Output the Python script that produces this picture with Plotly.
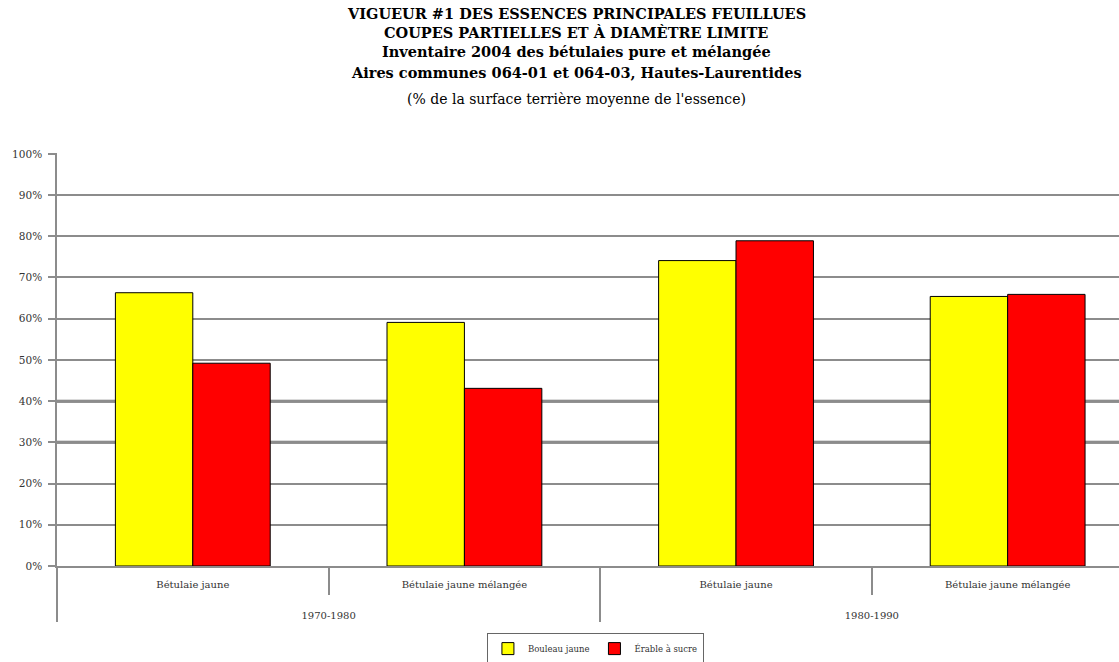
import plotly.graph_objects as go

# Periods and stand types (two-level category axis)
periodes = ["1970-1980", "1970-1980", "1980-1990", "1980-1990"]
peuplements = ["Bétulaie jaune", "Bétulaie jaune mélangée",
               "Bétulaie jaune", "Bétulaie jaune mélangée"]

# Share of the species' mean basal area with vigour class #1
bouleau_jaune = [0.663, 0.591, 0.741, 0.654]
erable_a_sucre = [0.492, 0.431, 0.789, 0.659]

SERIF = "DejaVu Serif, Liberation Serif, serif"
GRID = "#8c8c8c"
TXT = "#333333"

# inner labels get empty extra lines so the period row sits lower
etiquettes = [p + "<br> <br> " for p in peuplements]

fig = go.Figure()
fig.add_trace(go.Bar(
    x=[periodes, etiquettes], y=bouleau_jaune, name="Bouleau jaune",
    marker=dict(color="#FFFF00", line=dict(color="#000000", width=1)),
))
fig.add_trace(go.Bar(
    x=[periodes, etiquettes], y=erable_a_sucre, name="Érable à sucre",
    marker=dict(color="#FF0000", line=dict(color="#000000", width=1)),
))

titres = [
    ("<b>VIGUEUR #1 DES ESSENCES PRINCIPALES FEUILLUES</b>", 1.337, 14.5),
    ("<b>COUPES PARTIELLES ET À DIAMÈTRE LIMITE</b>", 1.291, 14.5),
    ("<b>Inventaire 2004 des bétulaies pure et mélangée</b>", 1.245, 14.5),
    ("<b>Aires communes 064-01 et 064-03, Hautes-Laurentides</b>", 1.196, 14.5),
    ("(% de la surface terrière moyenne de l'essence)", 1.131, 14),
]
for texte, yy, taille in titres:
    fig.add_annotation(
        text=texte, xref="paper", yref="paper", x=0.489, y=yy,
        xanchor="center", yanchor="middle", showarrow=False,
        font=dict(family=SERIF, size=taille, color="#000000"),
    )

# the 30 % and 40 % grid lines are drawn heavier
for niveau in (0.3, 0.4):
    fig.add_shape(type="line", xref="paper", yref="y", x0=0, x1=1,
                  y0=niveau, y1=niveau, layer="below",
                  line=dict(color="#6e6e6e", width=3))

fig.update_layout(
    width=1119, height=662,
    margin=dict(l=57, r=0, t=153, b=96, autoexpand=False),
    paper_bgcolor="white", plot_bgcolor="white",
    barmode="group", bargap=0.43, bargroupgap=0,
    font=dict(family=SERIF, size=10, color=TXT),
    showlegend=True,
    legend=dict(
        orientation="h", x=0.507, y=-0.2, xanchor="center", yanchor="middle",
        bordercolor="#666666", borderwidth=1,
        font=dict(family=SERIF, size=8.5, color=TXT),
        itemwidth=30, tracegroupgap=0,
    ),
    xaxis=dict(
        type="multicategory", range=[-0.5, 3.41], automargin=False,
        showline=True, linecolor=GRID, linewidth=1.5,
        ticks="outside", tickson="boundaries", ticklen=27, tickcolor=GRID,
        tickwidth=1.5,
        showdividers=True, dividercolor=GRID, dividerwidth=1.5,
        ticklabelstandoff=8,
        tickfont=dict(family=SERIF, size=10, color=TXT),
    ),
    yaxis=dict(
        range=[0, 1.002], dtick=0.1, tickformat=".0%", automargin=False,
        showline=True, linecolor=GRID, linewidth=1.5,
        showgrid=True, gridcolor=GRID, gridwidth=1.5,
        ticks="outside", ticklen=7, tickcolor=GRID, tickwidth=1.5,
        ticklabelstandoff=4,
        zeroline=False,
        tickfont=dict(family=SERIF, size=10.5, color=TXT),
    ),
)

fig.write_html("out.html")
